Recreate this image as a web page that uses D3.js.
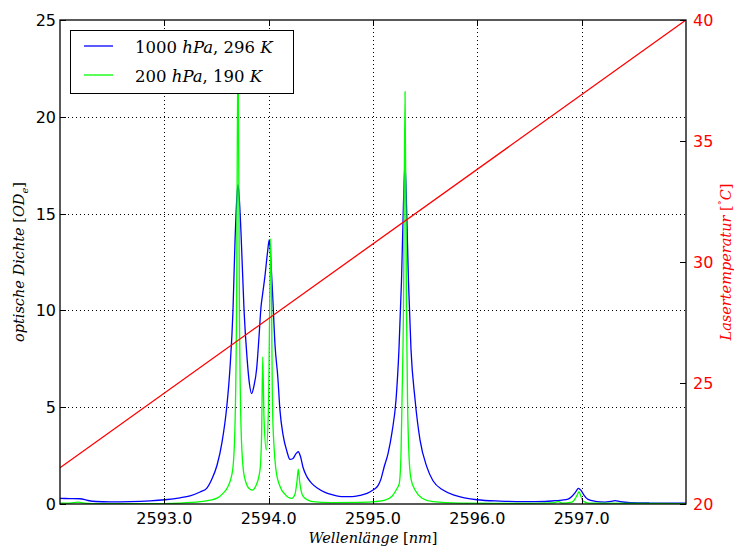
<!doctype html>
<html>
  <head>
    <meta charset="utf-8">
    <title>optische Dichte</title>
    <script src="https://d3js.org/d3.v7.min.js"></script>
    <style type="text/css">
      body { margin: 0; background: #fff; }
      .tick-label { font-family: "DejaVu Sans", sans-serif; font-size: 16px; }
      .math { font-family: "DejaVu Serif", serif; }
    </style>
  </head>
  <body>
    <svg></svg>
    <script type="text/javascript">
      // ---- data ----
      var waveBlue = [2592.000, 2592.096, 2592.192, 2592.268, 2592.345, 2592.479, 2592.671, 2592.863,
        2593.006, 2593.150, 2593.246, 2593.342, 2593.406, 2593.457, 2593.505, 2593.553, 2593.598,
        2593.629, 2593.658, 2593.677, 2593.697, 2593.706, 2593.716, 2593.735, 2593.764, 2593.792,
        2593.816, 2593.837, 2593.859, 2593.885, 2593.907, 2593.927, 2593.941, 2593.965, 2593.989,
        2594.006, 2594.022, 2594.039, 2594.061, 2594.087, 2594.109, 2594.137, 2594.176, 2594.204,
        2594.233, 2594.262, 2594.284, 2594.305, 2594.329, 2594.367, 2594.415, 2594.473, 2594.540,
        2594.617, 2594.713, 2594.799, 2594.876, 2594.943, 2595.000, 2595.048, 2595.077, 2595.106,
        2595.144, 2595.182, 2595.221, 2595.249, 2595.273, 2595.292, 2595.307, 2595.321, 2595.340,
        2595.364, 2595.403, 2595.451, 2595.515, 2595.575, 2595.671, 2595.786, 2595.997, 2596.217,
        2596.457, 2596.649, 2596.745, 2596.812, 2596.869, 2596.908, 2596.946, 2596.968, 2596.994,
        2597.023, 2597.061, 2597.128, 2597.224, 2597.281, 2597.320, 2597.368, 2597.464, 2597.655,
        2598.000];
      var odBlue = [0.29, 0.28, 0.27, 0.18, 0.13, 0.11, 0.12, 0.16,
        0.22, 0.32, 0.42, 0.62, 0.81, 1.3, 2.0, 3.2, 5.0,
        7.0, 10.0, 13.5, 16.0, 16.5, 16.0, 14.0, 10.0, 7.6,
        6.2, 5.7, 6.1, 7.0, 8.6, 10.2, 10.8, 11.8, 13.0,
        13.65, 12.5, 10.7, 8.2, 6.6, 4.8, 3.6, 2.7, 2.3,
        2.35, 2.6, 2.7, 2.45, 1.9, 1.4, 1.05, 0.8, 0.6,
        0.47, 0.38, 0.38, 0.45, 0.55, 0.72, 0.95, 1.3, 1.9,
        2.6, 3.7, 5.4, 8.0, 11.5, 15.5, 17.6, 15.5, 11.5,
        8.0, 5.4, 3.3, 1.93, 1.2, 0.72, 0.45, 0.22, 0.15,
        0.12, 0.13, 0.17, 0.2, 0.25, 0.4, 0.65, 0.81, 0.7,
        0.45, 0.24, 0.14, 0.1, 0.14, 0.17, 0.12, 0.07, 0.05,
        0.04];

      var waveGreen = [2592.000, 2592.096, 2592.173, 2592.230, 2592.383, 2592.863, 2593.150, 2593.342,
        2593.438, 2593.505, 2593.562, 2593.610, 2593.655, 2593.677, 2593.692, 2593.706, 2593.720,
        2593.735, 2593.757, 2593.783, 2593.812, 2593.843, 2593.879, 2593.917, 2593.932, 2593.943,
        2593.955, 2593.977, 2593.998, 2594.020, 2594.037, 2594.051, 2594.070, 2594.109, 2594.157,
        2594.221, 2594.252, 2594.272, 2594.284, 2594.296, 2594.310, 2594.332, 2594.377, 2594.425,
        2594.588, 2594.876, 2595.019, 2595.115, 2595.182, 2595.230, 2595.252, 2595.268, 2595.278,
        2595.292, 2595.307, 2595.321, 2595.331, 2595.345, 2595.364, 2595.403, 2595.470, 2595.575,
        2595.834, 2596.409, 2596.716, 2596.776, 2596.812, 2596.908, 2596.941, 2596.960, 2596.975,
        2596.989, 2597.013, 2597.061, 2598.000];
      var odGreen = [0.05, 0.05, 0.10, 0.05, 0.02, 0.02, 0.05, 0.12,
        0.2, 0.3, 0.55, 0.9, 1.76, 4.0, 10.0, 24.0, 10.0,
        4.0, 1.76, 1.1, 0.8, 0.72, 0.95, 1.76, 3.5, 7.6,
        4.5, 2.8, 5.0, 13.7, 5.0, 3.0, 1.76, 0.9, 0.5,
        0.29, 0.5, 1.2, 1.8, 1.2, 0.7, 0.38, 0.2, 0.12,
        0.07, 0.08, 0.12, 0.2, 0.4, 0.8, 1.07, 2.5, 5.37,
        10.0, 21.3, 10.0, 5.37, 2.5, 1.3, 0.72, 0.3, 0.12,
        0.05, 0.03, 0.06, 0.12, 0.05, 0.1, 0.3, 0.5, 0.64,
        0.45, 0.15, 0.05, 0.02];

      var laserWave = [2592.0, 2598.0];
      var laserTemp = [21.5, 40.0];

      var xTicks = [2593.0, 2594.0, 2595.0, 2596.0, 2597.0];
      var yTicks = [0, 5, 10, 15, 20, 25];
      var tTicks = [20, 25, 30, 35, 40];
      var seriesNames = ['1000', '200'];

      // ---- layout ----
      var W = 734, H = 547;
      var L = 60, R = 686, T = 20, B = 504;

      var svg = d3.select('svg')
        .attr('width', W)
        .attr('height', H);
      svg.append('rect').attr('width', W).attr('height', H).attr('fill', '#fff');

      var x = d3.scaleLinear().domain([2592.0, 2598.0]).range([L, R]);
      var y = d3.scaleLinear().domain([0, 25]).range([B, T]);
      var yT = d3.scaleLinear().domain([20, 40]).range([B, T]);

      // grid
      var grid = svg.append('g')
        .attr('stroke', '#000')
        .attr('stroke-width', 1)
        .attr('stroke-dasharray', '1,3');
      grid.selectAll('.gx').data(xTicks).enter().append('line')
        .attr('x1', function(d) { return Math.round(x(d)) + 0.5; })
        .attr('x2', function(d) { return Math.round(x(d)) + 0.5; })
        .attr('y1', T).attr('y2', B);
      grid.selectAll('.gy').data(yTicks.slice(1, -1)).enter().append('line')
        .attr('y1', function(d) { return Math.round(y(d)) + 0.5; })
        .attr('y2', function(d) { return Math.round(y(d)) + 0.5; })
        .attr('x1', L).attr('x2', R);

      // clip
      svg.append('clipPath').attr('id', 'plot')
        .append('rect').attr('x', L).attr('y', T).attr('width', R - L).attr('height', B - T);

      var lineOD = function(waves, vals) {
        return d3.line()
          .x(function(d, i) { return x(waves[i]); })
          .y(function(d) { return y(d); })
          .curve(d3.curveMonotoneX)(vals);
      };

      var plot = svg.append('g').attr('clip-path', 'url(#plot)');
      plot.append('path')
        .attr('d', lineOD(waveBlue, odBlue))
        .attr('fill', 'none').attr('stroke', '#0000ff').attr('stroke-width', 1.3);
      plot.append('path')
        .attr('d', lineOD(waveGreen, odGreen))
        .attr('fill', 'none').attr('stroke', '#00ff00').attr('stroke-width', 1.3);
      plot.append('path')
        .attr('d', d3.line()
          .x(function(d, i) { return x(laserWave[i]); })
          .y(function(d) { return yT(d); })(laserTemp))
        .attr('fill', 'none').attr('stroke', '#ff0000').attr('stroke-width', 1.3);

      // ticks (inward)
      var tk = svg.append('g').attr('stroke', '#000').attr('stroke-width', 1);
      xTicks.forEach(function(d) {
        var px = Math.round(x(d)) + 0.5;
        tk.append('line').attr('x1', px).attr('x2', px).attr('y1', B).attr('y2', B - 6);
        tk.append('line').attr('x1', px).attr('x2', px).attr('y1', T).attr('y2', T + 6);
      });
      yTicks.forEach(function(d) {
        var py = Math.round(y(d)) + 0.5;
        tk.append('line').attr('x1', L).attr('x2', L + 6).attr('y1', py).attr('y2', py);
      });
      tTicks.forEach(function(d) {
        var py = Math.round(yT(d)) + 0.5;
        tk.append('line').attr('x1', R).attr('x2', R - 6).attr('y1', py).attr('y2', py);
      });

      // frame
      svg.append('rect')
        .attr('x', L).attr('y', T).attr('width', R - L).attr('height', B - T)
        .attr('fill', 'none').attr('stroke', '#000').attr('stroke-width', 1.3);

      // tick labels
      svg.selectAll('.xl').data(xTicks).enter().append('text')
        .attr('class', 'tick-label')
        .attr('x', function(d) { return x(d); })
        .attr('y', B + 20)
        .attr('text-anchor', 'middle')
        .text(function(d) { return d.toFixed(1); });
      svg.selectAll('.yl').data(yTicks).enter().append('text')
        .attr('class', 'tick-label')
        .attr('x', L - 4)
        .attr('y', function(d) { return y(d) + 6; })
        .attr('text-anchor', 'end')
        .text(function(d) { return d; });
      svg.selectAll('.tl').data(tTicks).enter().append('text')
        .attr('class', 'tick-label')
        .attr('x', R + 7)
        .attr('y', function(d) { return yT(d) + 6; })
        .attr('fill', '#ff0000')
        .text(function(d) { return d; });

      // axis labels
      var xl = svg.append('text').attr('class', 'math')
        .attr('x', (L + R) / 2).attr('y', 543)
        .attr('text-anchor', 'middle').attr('font-size', 14.5);
      xl.append('tspan').attr('font-style', 'italic').text('Wellenlänge ');
      xl.append('tspan').text('[');
      xl.append('tspan').attr('font-style', 'italic').text('nm');
      xl.append('tspan').text(']');

      var yl = svg.append('text').attr('class', 'math')
        .attr('transform', 'translate(24,' + ((T + B) / 2) + ') rotate(-90)')
        .attr('text-anchor', 'middle').attr('font-size', 14.5);
      yl.append('tspan').attr('font-style', 'italic').text('optische Dichte ');
      yl.append('tspan').text('[');
      yl.append('tspan').attr('font-style', 'italic').text('OD');
      yl.append('tspan').attr('font-style', 'italic').attr('font-size', 10).attr('dy', 4).text('e');
      yl.append('tspan').attr('dy', -4).text(']');

      var yr = svg.append('text').attr('class', 'math')
        .attr('transform', 'translate(731,' + ((T + B) / 2) + ') rotate(-90)')
        .attr('text-anchor', 'middle').attr('font-size', 14.5).attr('fill', '#ff0000');
      yr.append('tspan').attr('font-style', 'italic').text('Lasertemperatur ');
      yr.append('tspan').text('[');
      yr.append('tspan').attr('font-size', 10).attr('dy', -6).text('°');
      yr.append('tspan').attr('font-style', 'italic').attr('dy', 6).text('C');
      yr.append('tspan').text(']');

      // legend
      var lg = svg.append('g');
      lg.append('rect')
        .attr('x', 70.5).attr('y', 30.5).attr('width', 223).attr('height', 63)
        .attr('fill', '#fff').attr('stroke', '#000').attr('stroke-width', 1);
      var legendRows = [
        { name: seriesNames[0], color: '#0000ff', temp: '296' },
        { name: seriesNames[1], color: '#00ff00', temp: '190' }
      ];
      legendRows.forEach(function(r, i) {
        var cy = 46 + i * 29;
        lg.append('line').attr('x1', 84).attr('x2', 113).attr('y1', cy).attr('y2', cy)
          .attr('stroke', r.color).attr('stroke-width', 1.3);
        var t = lg.append('text').attr('class', 'math')
          .attr('x', 135).attr('y', cy + 7).attr('font-size', 16.5);
        t.append('tspan').text(r.name + ' ');
        t.append('tspan').attr('font-style', 'italic').text('hPa');
        t.append('tspan').text(', ' + r.temp + ' ');
        t.append('tspan').attr('font-style', 'italic').text('K');
      });
    </script>
  </body>
</html>
